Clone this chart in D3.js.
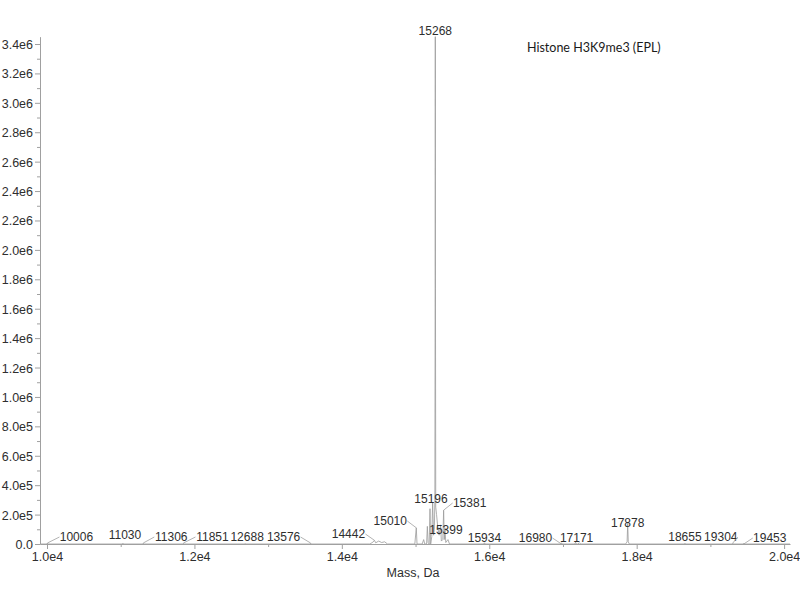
<!DOCTYPE html>
<html>
<head>
<meta charset="utf-8">
<script src="https://cdn.jsdelivr.net/npm/d3@7"></script>
<style>
  html, body { margin: 0; padding: 0; background: #fff; }
  svg { display: block; }
</style>
</head>
<body>
<svg id="chart" width="800" height="600"></svg>
<script>
// ---- Data ----
const title = "Histone H3K9me3 (EPL)";
const xLabel = "Mass, Da";

// profile points (mass in Da, intensity in counts)
const masses = [
  9905, 10000, 10006, 10012, 11025, 11030, 11035, 11300, 11306, 11312,
  11845, 11851, 11857, 12680, 12688, 12695, 13570, 13576, 13582,
  14380, 14420, 14442, 14460, 14500, 14540, 14580, 14620,
  14990, 15010, 15020, 15090, 15110, 15125, 15150, 15160, 15170, 15185,
  15196, 15205, 15220, 15232, 15245, 15255, 15262, 15266, 15268, 15270,
  15274, 15285, 15300, 15320, 15340, 15350, 15370, 15381, 15390, 15399,
  15410, 15440, 15460, 15925, 15934, 15943, 16970, 16980, 16990,
  17160, 17171, 17180, 17200, 17225, 17240, 17850, 17870, 17878, 17886,
  17900, 18648, 18655, 18662, 19298, 19304, 19310, 19446, 19453, 19460, 20080
];
const intensities = [
  0, 0, 6000, 0, 0, 5000, 0, 0, 5000, 0,
  0, 4000, 0, 0, 4000, 0, 0, 5000, 0,
  0, 12000, 25000, 8000, 20000, 10000, 15000, 0,
  0, 110000, 0, 0, 30000, 0, 0, 120000, 10000, 0,
  240000, 0, 50000, 280000, 60000, 100000, 300000, 1740000, 3450000, 1740000,
  250000, 200000, 120000, 60000, 130000, 20000, 30000, 230000, 30000, 110000,
  10000, 30000, 0, 0, 8000, 0, 0, 8000, 0,
  0, 12000, 0, 0, 8000, 0, 0, 15000, 140000, 15000,
  0, 0, 5000, 0, 0, 5000, 0, 0, 5000, 0, 0
];

// annotated peaks
const peakMasses = [10006, 11030, 11306, 11851, 12688, 13576, 14442, 15010, 15196,
                    15268, 15381, 15399, 15934, 16980, 17171, 17878, 18655, 19304, 19453];
const peakTexts = peakMasses.map(String);

// axis ticks
const xMajorTicks = [10000, 12000, 14000, 16000, 18000, 20000];
const xMajorLabels = ["1.0e4", "1.2e4", "1.4e4", "1.6e4", "1.8e4", "2.0e4"];
const xMinorTicks = [11000, 13000, 15000, 17000, 19000];
const yMajorTicks = [0, 2e5, 4e5, 6e5, 8e5, 1e6, 1.2e6, 1.4e6, 1.6e6, 1.8e6,
                     2e6, 2.2e6, 2.4e6, 2.6e6, 2.8e6, 3e6, 3.2e6, 3.4e6];
const yMajorLabels = ["0.0", "2.0e5", "4.0e5", "6.0e5", "8.0e5", "1.0e6", "1.2e6", "1.4e6",
                      "1.6e6", "1.8e6", "2.0e6", "2.2e6", "2.4e6", "2.6e6", "2.8e6",
                      "3.0e6", "3.2e6", "3.4e6"];
const yMinorTicks = [1e5, 3e5, 5e5, 7e5, 9e5, 1.1e6, 1.3e6, 1.5e6, 1.7e6, 1.9e6,
                     2.1e6, 2.3e6, 2.5e6, 2.7e6, 2.9e6, 3.1e6, 3.3e6];

// ---- Layout (label placement relative to each peak: dx, baseline y, leader) ----
const labelLayout = {
  10006: {dx: 29, by: 541, leader: true},
  11030: {dx: 2, by: 539, leader: false},
  11306: {dx: 28, by: 541, leader: true},
  11851: {dx: 29, by: 541, leader: true},
  12688: {dx: 2, by: 541, leader: false},
  13576: {dx: -27, by: 541, leader: true},
  14442: {dx: -26, by: 538, leader: true},
  15010: {dx: -26, by: 525, leader: true},
  15196: {dx: 1, by: 503, leader: false},
  15268: {dx: 0, by: 35, leader: false},
  15381: {dx: 26, by: 507, leader: true},
  15399: {dx: 1, by: 534, leader: false},
  15934: {dx: 0, by: 542, leader: false},
  16980: {dx: -26, by: 542, leader: true},
  17171: {dx: 1, by: 542, leader: false},
  17878: {dx: 0, by: 527, leader: false},
  18655: {dx: 0, by: 541, leader: false},
  19304: {dx: -12, by: 541, leader: true},
  19453: {dx: 26, by: 542, leader: true}
};

const svg = d3.select("#chart");
const x = d3.scaleLinear().domain([9905, 20080]).range([40, 790]);
const y = d3.scaleLinear().domain([0, 3.45e6]).range([544, 544 - 3.45e6 * 500 / 3.4e6]);

const axisColor = "#a0a0a0";
const textColor = "#2e2e2e";
const axisFont = "'Liberation Sans', Arial, sans-serif";

// spectrum line
const pts = masses.map((m, i) => [m, intensities[i]]);
svg.append("path")
  .datum(pts)
  .attr("fill", "none")
  .attr("stroke", "#9a9a9a")
  .attr("stroke-width", 0.8)
  .attr("d", d3.line().x(d => x(d[0])).y(d => y(d[1])));

// x axis
const gx = svg.append("g").attr("transform", "translate(0,544)");
gx.call(d3.axisBottom(x).tickValues(xMajorTicks).tickSize(5).tickSizeOuter(0)
  .tickFormat((d, i) => xMajorLabels[i]));
const gxm = svg.append("g").attr("transform", "translate(0,544)");
gxm.call(d3.axisBottom(x).tickValues(xMinorTicks).tickSize(3).tickSizeOuter(0).tickFormat(""));
gxm.select(".domain").remove();

// y axis
const gy = svg.append("g").attr("transform", "translate(40,0)");
gy.call(d3.axisLeft(y).tickValues(yMajorTicks).tickSize(5).tickSizeOuter(0)
  .tickFormat((d, i) => yMajorLabels[i]));
const gym = svg.append("g").attr("transform", "translate(40,0)");
gym.call(d3.axisLeft(y).tickValues(yMinorTicks).tickSize(3).tickSizeOuter(0).tickFormat(""));
gym.select(".domain").remove();

svg.selectAll(".domain, .tick line").attr("stroke", axisColor);
gx.selectAll(".tick text").attr("font-family", axisFont).attr("font-size", 12.5)
  .attr("fill", textColor).attr("dy", "0.95em").attr("y", 5);
gy.selectAll(".tick text").attr("font-family", axisFont).attr("font-size", 12.5)
  .attr("fill", textColor).attr("x", -7).attr("dy", "0.36em");

// axis title
svg.append("text")
  .attr("x", 413).attr("y", 577)
  .attr("text-anchor", "middle")
  .attr("font-family", axisFont).attr("font-size", 12.5)
  .attr("fill", textColor)
  .text(xLabel);

// peak labels
const lab = svg.append("g");
peakMasses.forEach((m, i) => {
  const L = labelLayout[m];
  const px = x(m);
  const cx = px + L.dx;
  lab.append("text")
    .attr("x", cx).attr("y", L.by)
    .attr("text-anchor", "middle")
    .attr("font-family", axisFont).attr("font-size", 12)
    .attr("fill", textColor)
    .text(peakTexts[i]);
  if (L.leader) {
    const half = 17;
    const ex = L.dx > 0 ? cx - half : cx + half;
    const pi = masses.indexOf(m);
    const py = Math.min(543, y(pi >= 0 ? intensities[pi] : 0));
    lab.append("line")
      .attr("x1", ex).attr("y1", L.by - 4)
      .attr("x2", px).attr("y2", Math.max(py, L.by + 2))
      .attr("stroke", "#a0a0a0").attr("stroke-width", 0.8);
  }
});

// title
svg.append("text")
  .attr("x", 527).attr("y", 52)
  .attr("font-family", "Lato, 'Open Sans', sans-serif")
  .attr("font-size", 12.5)
  .attr("fill", "#1a1a1a")
  .text(title);
</script>
</body>
</html>
